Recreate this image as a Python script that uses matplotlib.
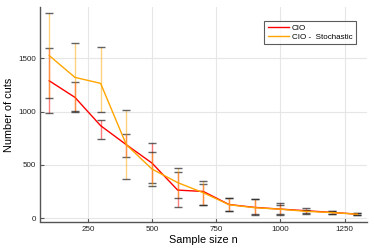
import matplotlib
matplotlib.use("Agg")
import matplotlib.pyplot as plt
import numpy as np

plt.rcParams['font.family'] = ['Liberation Sans', 'DejaVu Sans']

n = [100, 200, 300, 400, 500, 600, 700, 800, 900, 1000, 1100, 1200, 1300]

cio = [1288, 1133, 868, 690, 518, 265, 252, 130, 103, 87, 72, 56, 40]
cio_lo = [983, 998, 742, 577, 328, 103, 128, 70, 33, 28, 37, 40, 31]
cio_hi = [1597, 1276, 920, 789, 702, 431, 323, 187, 184, 146, 94, 71, 53]

sto = [1524, 1320, 1264, 690, 462, 335, 240, 128, 100, 86, 66, 55, 39]
sto_lo = [1127, 1002, 998, 365, 305, 193, 125, 70, 37, 40, 50, 40, 31]
sto_hi = [1919, 1638, 1607, 1014, 618, 474, 350, 187, 184, 122, 78, 71, 53]

xticks = [250, 500, 750, 1000, 1250]
yticks = [0, 500, 1000, 1500]

red = '#ff0000'
orange = '#ffa500'

fig = plt.figure(figsize=(3.74, 2.49), dpi=100)
ax = fig.add_axes([40/374, 1 - 221.5/249, (366.7-40)/374, (221.5-7.3)/249])

def draw(vals, lo, hi, color, label, z):
    vals = np.array(vals); lo = np.array(lo); hi = np.array(hi)
    ax.vlines(n, lo, hi, colors=color, alpha=0.5, lw=1.0, zorder=z)
    for arr in (lo, hi):
        ax.plot(n, arr, linestyle='none', marker='_', markersize=6,
                markeredgewidth=1.0, color='#222222', alpha=0.7, zorder=z + 0.5)
    ax.plot(n, vals, color=color, lw=1.0, label=label, zorder=z + 1)

draw(cio, cio_lo, cio_hi, red, 'CIO', 3)
draw(sto, sto_lo, sto_hi, orange, 'CIO -  Stochastic', 4)

ax.set_xlim(64, 1336)
ax.set_ylim(-29, 1976)
ax.set_xticks(xticks)
ax.set_yticks(yticks)
ax.grid(True, color='#e6e6e6', lw=0.8)
ax.set_axisbelow(True)
for s in ('top', 'right'):
    ax.spines[s].set_visible(False)
for s in ('left', 'bottom'):
    ax.spines[s].set_color('#555555')
    ax.spines[s].set_linewidth(1.0)
ax.tick_params(direction='in', length=3, width=0.8, color='#555555',
               labelsize=5.8, labelcolor='#222222', pad=3)
ax.set_xlabel('Sample size n', fontsize=7.8, labelpad=2)
ax.set_ylabel('Number of cuts', fontsize=7.8, labelpad=3)

leg = ax.legend(loc='upper right', bbox_to_anchor=(355.7/374, 1 - 20.7/249),
                bbox_transform=fig.transFigure, fontsize=5.8, frameon=True,
                fancybox=False, handlelength=2.6, handletextpad=0.4,
                borderpad=0.4, labelspacing=0.2, borderaxespad=0)
leg.get_frame().set_edgecolor('#333333')
leg.get_frame().set_linewidth(0.8)

fig.savefig('out.png', dpi=100)
